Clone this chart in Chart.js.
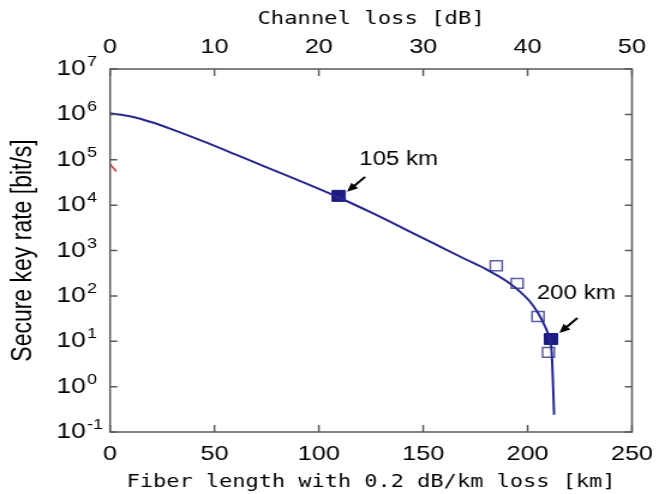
<!DOCTYPE html>
<html>
<head>
<meta charset="utf-8">
<script src="https://cdn.jsdelivr.net/npm/chart.js@4/dist/chart.umd.min.js"></script>
<style>
  html, body { margin: 0; padding: 0; background: #fff; }
</style>
</head>
<body>
<!-- drawn 554 wide and stretched to 665, the reference text is horizontally wide -->
<canvas id="chart" width="554" height="494" style="display:block;width:665px;height:494px"></canvas>
<script>
// curve: fiber length [km] vs secure key rate [bit/s]
const kmCurve = [0, 10, 20, 30, 45, 60, 75, 90, 109, 125, 140, 155, 170, 180, 190, 196, 201, 205, 208, 210, 211, 211.5, 211.9, 212.3, 212.7];
const rateCurve = [1.06e6, 9.0e5, 6.7e5, 4.6e5, 2.5e5, 1.31e5, 6.8e4, 3.55e4, 1.51e4, 6.9e3, 3.16e3, 1.43e3, 650, 390, 210, 128, 76, 42, 23, 14, 10, 6, 2.5, 0.8, 0.24];

// open squares
const kmMeasured = [185, 195, 205, 210];
const rateMeasured = [462, 189, 35, 5.7];

// filled squares with the arrows
const kmMarked = [109.5, 211.2];
const rateMarked = [1.6e4, 11.2];
const markLabels = ["105 km", "200 km"];

// short red piece at the left edge
const kmRed = [-1, 3];
const rateRed = [9e4, 5.5e4];

const kmTicks = [0, 50, 100, 150, 200, 250];
const lossTicks = [0, 10, 20, 30, 40, 50];
const rateExp = [-1, 0, 1, 2, 3, 4, 5, 6, 7];

const sans = '"Liberation Sans", Arial, sans-serif';
const mono = '"DejaVu Sans Mono", "Liberation Mono", monospace';

function pts(xs, ys) {
  return xs.map((x, i) => ({ x: x, y: ys[i] }));
}

// where the label and arrow sit next to each filled square (px)
const markOffsets = [
  { tx: 50, ty: -36, ax0: 22, ay0: -19, ax1: 7, ay1: -4 },
  { tx: 21, ty: -46, ax0: 22, ay0: -21, ax1: 7, ay1: -6 },
];

const framePlugin = {
  id: "frame",
  afterDatasetsDraw(chart) {
    const ctx = chart.ctx;
    const a = chart.chartArea;
    const x = chart.scales.x, x2 = chart.scales.x2, y = chart.scales.y;
    ctx.save();
    ctx.strokeStyle = "#5a5a5a";
    ctx.lineWidth = 1.5;
    ctx.strokeRect(a.left, a.top, a.right - a.left, a.bottom - a.top);
    ctx.beginPath();
    kmTicks.forEach((v) => {
      const px = x.getPixelForValue(v);
      ctx.moveTo(px, a.bottom);
      ctx.lineTo(px, a.bottom - 7);
    });
    lossTicks.forEach((v) => {
      const px = x2.getPixelForValue(v);
      ctx.moveTo(px, a.top);
      ctx.lineTo(px, a.top + 7);
    });
    rateExp.forEach((e) => {
      const py = y.getPixelForValue(Math.pow(10, e));
      ctx.moveTo(a.left, py);
      ctx.lineTo(a.left + 6, py);
      ctx.moveTo(a.right, py);
      ctx.lineTo(a.right - 6, py);
    });
    ctx.stroke();

    // y tick labels 10^n
    ctx.fillStyle = "#000";
    rateExp.forEach((e) => {
      const py = y.getPixelForValue(Math.pow(10, e));
      ctx.font = "22px " + sans;
      ctx.textAlign = "right";
      ctx.textBaseline = "alphabetic";
      ctx.fillText("10", 71.5, py + 6);
      ctx.font = "15px " + sans;
      ctx.textAlign = "left";
      ctx.fillText(String(e), 72.5, py - 3);
    });

    // labels and arrows at the filled squares
    const meta = chart.getDatasetMeta(3);
    meta.data.forEach((pt, i) => {
      const o = markOffsets[i];
      ctx.font = "20px " + sans;
      ctx.textAlign = "center";
      ctx.textBaseline = "middle";
      ctx.fillText(markLabels[i], pt.x + o.tx, pt.y + o.ty);
      const x0 = pt.x + o.ax0, y0 = pt.y + o.ay0;
      const x1 = pt.x + o.ax1, y1 = pt.y + o.ay1;
      const ang = Math.atan2(y1 - y0, x1 - x0);
      ctx.strokeStyle = "#000";
      ctx.lineWidth = 2;
      ctx.beginPath();
      ctx.moveTo(x0, y0);
      ctx.lineTo(x1 - 5 * Math.cos(ang), y1 - 5 * Math.sin(ang));
      ctx.stroke();
      ctx.beginPath();
      ctx.moveTo(x1, y1);
      ctx.lineTo(x1 - 9 * Math.cos(ang) + 4 * Math.sin(ang), y1 - 9 * Math.sin(ang) - 4 * Math.cos(ang));
      ctx.lineTo(x1 - 9 * Math.cos(ang) - 4 * Math.sin(ang), y1 - 9 * Math.sin(ang) + 4 * Math.cos(ang));
      ctx.closePath();
      ctx.fill();
    });
    ctx.restore();
  },
};

new Chart(document.getElementById("chart"), {
  type: "line",
  data: {
    datasets: [
      {
        data: pts(kmCurve, rateCurve),
        borderColor: "#26268f",
        borderWidth: 2,
        pointRadius: 0,
        cubicInterpolationMode: "monotone",
        fill: false,
      },
      {
        data: pts(kmRed, rateRed),
        borderColor: "#d83030",
        borderWidth: 1.5,
        pointRadius: 0,
        fill: false,
      },
      {
        data: pts(kmMeasured, rateMeasured),
        showLine: false,
        pointStyle: "rect",
        pointRadius: 7,
        borderColor: "#5c5ca8",
        borderWidth: 1.5,
        backgroundColor: "rgba(0,0,0,0)",
      },
      {
        data: pts(kmMarked, rateMarked),
        showLine: false,
        pointStyle: "rect",
        pointRadius: 7.8,
        borderColor: "#1c1c80",
        borderWidth: 1,
        backgroundColor: "#1c1c80",
      },
    ],
  },
  options: {
    responsive: false,
    animation: false,
    devicePixelRatio: 1,
    layout: { padding: { left: 0, right: 20.7, top: 0, bottom: 0 } },
    plugins: { legend: { display: false }, tooltip: { enabled: false } },
    scales: {
      x: {
        type: "linear",
        position: "bottom",
        min: 0,
        max: 250,
        afterBuildTicks: (s) => { s.ticks = kmTicks.map((v) => ({ value: v })); },
        ticks: { font: { size: 21, family: sans }, color: "#000", padding: 10, maxRotation: 0 },
        grid: { display: false, drawTicks: false },
        border: { display: false },
        title: {
          display: true,
          text: "Fiber length with 0.2 dB/km loss [km]",
          font: { size: 18.3, family: mono },
          color: "#000",
          padding: { top: 0, bottom: 1 },
        },
        afterFit: (s) => { s.height = 62; },
      },
      x2: {
        type: "linear",
        position: "top",
        min: 0,
        max: 50,
        afterBuildTicks: (s) => { s.ticks = lossTicks.map((v) => ({ value: v })); },
        ticks: { font: { size: 21, family: sans }, color: "#000", padding: 9, maxRotation: 0 },
        grid: { display: false, drawTicks: false },
        border: { display: false },
        title: {
          display: true,
          text: "Channel loss [dB]",
          font: { size: 18.5, family: mono },
          color: "#000",
          padding: { top: 8, bottom: 0 },
        },
        afterFit: (s) => { s.height = 69; },
      },
      y: {
        type: "logarithmic",
        min: 0.1,
        max: 1e7,
        ticks: { display: false },
        grid: { display: false, drawTicks: false },
        border: { display: false },
        title: {
          display: true,
          text: "Secure key rate [bit/s]",
          font: { size: 23, family: sans },
          color: "#000",
          padding: { top: 6, bottom: 0 },
        },
        afterFit: (s) => { s.width = 91.7; },
      },
    },
  },
  plugins: [framePlugin],
});
</script>
</body>
</html>
